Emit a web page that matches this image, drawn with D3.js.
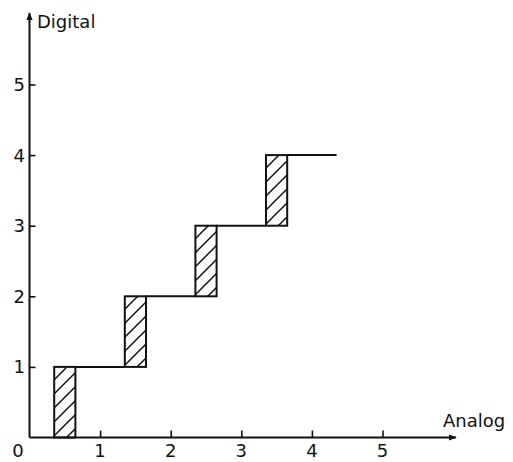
<!DOCTYPE html>
<html><head><meta charset="utf-8">
<script src="https://cdn.jsdelivr.net/npm/d3@7"></script>
<style>body{margin:0;background:#fff}svg{display:block}text{font-family:"DejaVu Sans","Liberation Sans",Arial,sans-serif;fill:#111}</style>
</head><body>
<script>
// Data
const xTicks = [1, 2, 3, 4, 5];
const yTicks = [1, 2, 3, 4, 5];
// quantization transition bands (analog start, analog end, digital from, digital to)
const bandStart = [0.35, 1.35, 2.35, 3.35];
const bandEnd   = [0.65, 1.65, 2.65, 3.65];
const levelFrom = [0, 1, 2, 3];
const levelTo   = [1, 2, 3, 4];
// flat steps (analog start, analog end, digital level)
const stepStart = [0.65, 1.65, 2.65, 3.65];
const stepEnd   = [1.35, 2.35, 3.35, 4.35];
const stepLevel = [1, 2, 3, 4];
const xLabel = "Analog", yLabel = "Digital";

const W = 513, H = 462;
const svg = d3.select("body").append("svg").attr("width", W).attr("height", H);
const x = d3.scaleLinear().domain([0, 6]).range([29.5, 29.5 + 70.6 * 6]);
const y = d3.scaleLinear().domain([0, 6]).range([437.5, 437.5 - 70.6 * 6]);

const defs = svg.append("defs");
const pat = defs.append("pattern").attr("id", "hatch").attr("patternUnits", "userSpaceOnUse")
  .attr("width", 14).attr("height", 14);
pat.append("path").attr("d", "M-3,17 L17,-3 M-3,3 L3,-3 M11,17 L17,11")
  .attr("stroke", "#111").attr("stroke-width", 1.5);
defs.append("marker").attr("id", "arrow").attr("viewBox", "0 0 10 10").attr("refX", 9).attr("refY", 5)
  .attr("markerWidth", 4).attr("markerHeight", 4).attr("orient", "auto")
  .append("path").attr("d", "M0,1 L10,5 L0,9 Z").attr("fill", "#111");

// Axes with inward ticks
const xAxis = d3.axisTop(x).tickValues(xTicks).tickSize(7).tickFormat("");
const gx = svg.append("g").attr("transform", `translate(0,${y(0)})`).call(xAxis);
gx.select(".domain").remove();
gx.selectAll("line").attr("stroke", "#111").attr("stroke-width", 1.6);
const yAxis = d3.axisRight(y).tickValues(yTicks).tickSize(6).tickFormat("");
const gy = svg.append("g").attr("transform", `translate(${x(0)},0)`).call(yAxis);
gy.select(".domain").remove();
gy.selectAll("line").attr("stroke", "#111").attr("stroke-width", 1.6);

svg.append("line").attr("x1", x(0)).attr("y1", y(0)).attr("x2", 456).attr("y2", y(0))
  .attr("stroke", "#111").attr("stroke-width", 2).attr("marker-end", "url(#arrow)");
svg.append("line").attr("x1", x(0)).attr("y1", y(0)).attr("x2", x(0)).attr("y2", 13)
  .attr("stroke", "#111").attr("stroke-width", 2).attr("marker-end", "url(#arrow)");

// tick labels
svg.append("g").selectAll("text").data(xTicks).join("text")
  .attr("x", d => x(d)).attr("y", 457).attr("text-anchor", "middle").attr("font-size", 18).text(d => d);
svg.append("g").selectAll("text").data(yTicks).join("text")
  .attr("x", 25).attr("y", d => y(d) + 6.5).attr("text-anchor", "end").attr("font-size", 18).text(d => d);
svg.append("text").attr("x", 18).attr("y", 457).attr("text-anchor", "middle").attr("font-size", 18).text("0");
svg.append("text").attr("x", 37).attr("y", 28).attr("font-size", 18).text(yLabel);
svg.append("text").attr("x", 443).attr("y", 427).attr("font-size", 18).text(xLabel);

// hatched transition bands
svg.append("g").selectAll("rect").data(d3.range(bandStart.length)).join("rect")
  .attr("x", i => x(bandStart[i])).attr("y", i => y(levelTo[i]))
  .attr("width", i => x(bandEnd[i]) - x(bandStart[i]))
  .attr("height", i => y(levelFrom[i]) - y(levelTo[i]))
  .attr("fill", "url(#hatch)").attr("stroke", "#111").attr("stroke-width", 2);

// steps
svg.append("g").selectAll("line").data(d3.range(stepStart.length)).join("line")
  .attr("x1", i => x(stepStart[i])).attr("x2", i => x(stepEnd[i]))
  .attr("y1", i => y(stepLevel[i])).attr("y2", i => y(stepLevel[i]))
  .attr("stroke", "#111").attr("stroke-width", 2);
</script>
</body></html>
